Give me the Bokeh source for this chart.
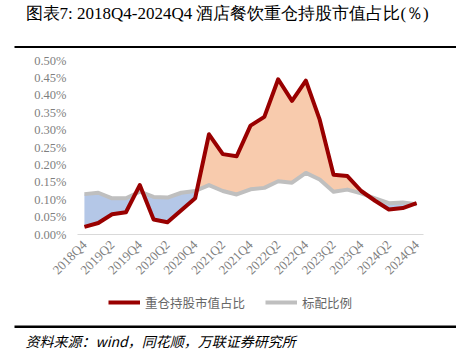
import numpy as np
import math
from bokeh.plotting import figure
from bokeh.layouts import column
from bokeh.models import (FixedTicker, PrintfTickFormatter, Label, BoxAnnotation,
                          Legend, LegendItem, Range1d, ColumnDataSource)
from bokeh.embed import file_html
from bokeh.resources import INLINE

quarters = ["2018Q4", "2019Q1", "2019Q2", "2019Q3", "2019Q4", "2020Q1", "2020Q2",
            "2020Q3", "2020Q4", "2021Q1", "2021Q2", "2021Q3", "2021Q4", "2022Q1",
            "2022Q2", "2022Q3", "2022Q4", "2023Q1", "2023Q2", "2023Q3", "2023Q4",
            "2024Q1", "2024Q2", "2024Q3", "2024Q4"]
heavy = [0.022, 0.033, 0.058, 0.064, 0.142, 0.043, 0.035, 0.070, 0.104, 0.288,
         0.231, 0.225, 0.313, 0.338, 0.446, 0.384, 0.442, 0.330, 0.172, 0.168,
         0.125, 0.097, 0.072, 0.076, 0.090]
standard = [0.116, 0.120, 0.104, 0.104, 0.123, 0.108, 0.106, 0.120, 0.125, 0.142,
            0.125, 0.115, 0.130, 0.134, 0.153, 0.149, 0.177, 0.158, 0.123, 0.129,
            0.118, 0.104, 0.090, 0.092, 0.087]
y_ticks = [0.0, 0.05, 0.10, 0.15, 0.20, 0.25, 0.30, 0.35, 0.40, 0.45, 0.50]

title_text = "图表7: 2018Q4-2024Q4 酒店餐饮重仓持股市值占比(％)"
source_text = "资料来源：wind，同花顺，万联证券研究所"
legend_names = ["重仓持股市值占比", "标配比例"]

RED = "#990000"
GREY = "#BFBFBF"
BLUE_FILL = "#B4C7E7"
ORANGE_FILL = "#F8CBAD"

W = 456

x = np.arange(len(quarters), dtype=float)
r = np.array(heavy)
g = np.array(standard)

# add the crossing points so the two fills meet exactly on the lines
xe, re, ge = [x[0]], [r[0]], [g[0]]
for i in range(len(x) - 1):
    d0 = r[i] - g[i]
    d1 = r[i + 1] - g[i + 1]
    if d0 * d1 < 0:
        t = d0 / (d0 - d1)
        yc = r[i] + t * (r[i + 1] - r[i])
        xe.append(x[i] + t); re.append(yc); ge.append(yc)
    xe.append(x[i + 1]); re.append(r[i + 1]); ge.append(g[i + 1])
xe = np.array(xe); re = np.array(re); ge = np.array(ge)


def no_align(f):
    try:
        f.frame_align = False
    except Exception:
        pass
    return f


def blank(h):
    f = figure(width=W, height=h, output_backend="svg", toolbar_location=None,
               x_axis_type=None, y_axis_type=None, x_range=Range1d(0, 1),
               y_range=Range1d(0, 1), min_border=0)
    f.outline_line_color = None
    f.grid.visible = False
    return no_align(f)


# ---- top: title + rule
TOP_H = 48
top = blank(TOP_H)
top.add_layout(Label(x=25, y=TOP_H - 12.5, x_units="screen", y_units="screen",
                     text=title_text, text_font="Liberation Serif",
                     text_font_size="17px", text_baseline="middle",
                     text_color="#000000"))
top.add_layout(BoxAnnotation(left=14, right=W, bottom=0, top=2.5,
                             left_units="screen", right_units="screen",
                             bottom_units="screen", top_units="screen",
                             fill_color="black", fill_alpha=1, line_color=None))

# ---- middle: chart
MID_H = 237
p = figure(width=W, height=MID_H, output_backend="svg", toolbar_location=None,
           x_range=Range1d(-0.5, len(quarters) - 0.5), y_range=Range1d(0, 0.5),
           min_border_left=77, min_border_right=33, min_border_top=12,
           min_border_bottom=48)
no_align(p)
p.outline_line_color = None
p.grid.visible = False

p.varea(x=xe, y1=np.minimum(re, ge), y2=ge, fill_color=BLUE_FILL)
p.varea(x=xe, y1=ge, y2=np.maximum(re, ge), fill_color=ORANGE_FILL)
p.line(x, g, line_color=GREY, line_width=4, line_join="round")
p.line(x, r, line_color=RED, line_width=4, line_join="round")

xa = p.xaxis[0]
xa.ticker = FixedTicker(ticks=list(range(0, len(quarters), 2)))
xa.major_label_overrides = {i: quarters[i] for i in range(0, len(quarters), 2)}
xa.major_label_orientation = math.pi / 4
xa.major_tick_line_color = None
xa.minor_tick_line_color = None
xa.major_tick_out = 0
xa.major_tick_in = 0
xa.axis_line_color = "#D9D9D9"
xa.axis_line_width = 1
xa.major_label_text_font = "Liberation Serif"
xa.major_label_text_font_size = "13px"
xa.major_label_text_color = "#7F7F7F"
xa.major_label_standoff = 8

ya = p.yaxis[0]
ya.ticker = FixedTicker(ticks=y_ticks)
ya.formatter = PrintfTickFormatter(format="%.2f%%")
ya.axis_line_color = None
ya.major_tick_line_color = None
ya.minor_tick_line_color = None
ya.major_tick_out = 0
ya.major_tick_in = 0
ya.major_label_text_font = "Liberation Serif"
ya.major_label_text_font_size = "12.5px"
ya.major_label_text_color = "#7F7F7F"
ya.major_label_standoff = 11

# ---- bottom: legend, rule, source
BOT_H = 75
bot = blank(BOT_H)
proxy = ColumnDataSource(data=dict(x=[np.nan], y=[np.nan]))
lr = bot.line("x", "y", source=proxy, line_color=RED, line_width=4)
lg = bot.line("x", "y", source=proxy, line_color=GREY, line_width=4)
legend = Legend(items=[LegendItem(label=legend_names[0], renderers=[lr]),
                       LegendItem(label=legend_names[1], renderers=[lg])],
                orientation="horizontal", location=(108, BOT_H - 27),
                border_line_color=None, background_fill_alpha=0,
                padding=0, margin=0, spacing=20, glyph_width=32,
                label_standoff=5, label_text_font="Noto Sans CJK SC",
                label_text_font_size="12.5px", label_text_color="#666666")
bot.add_layout(legend, "center")
bot.add_layout(BoxAnnotation(left=14, right=W, bottom=BOT_H - 42.5, top=BOT_H - 40,
                             left_units="screen", right_units="screen",
                             bottom_units="screen", top_units="screen",
                             fill_color="black", fill_alpha=1, line_color=None))
bot.add_layout(Label(x=25, y=BOT_H - 55, x_units="screen", y_units="screen",
                     text=source_text, text_font="Noto Sans CJK SC",
                     text_font_size="14px", text_font_style="italic",
                     text_baseline="middle", text_color="#000000"))

layout = column(top, p, bot, spacing=0)
open("out.html", "w").write(file_html(layout, INLINE))
